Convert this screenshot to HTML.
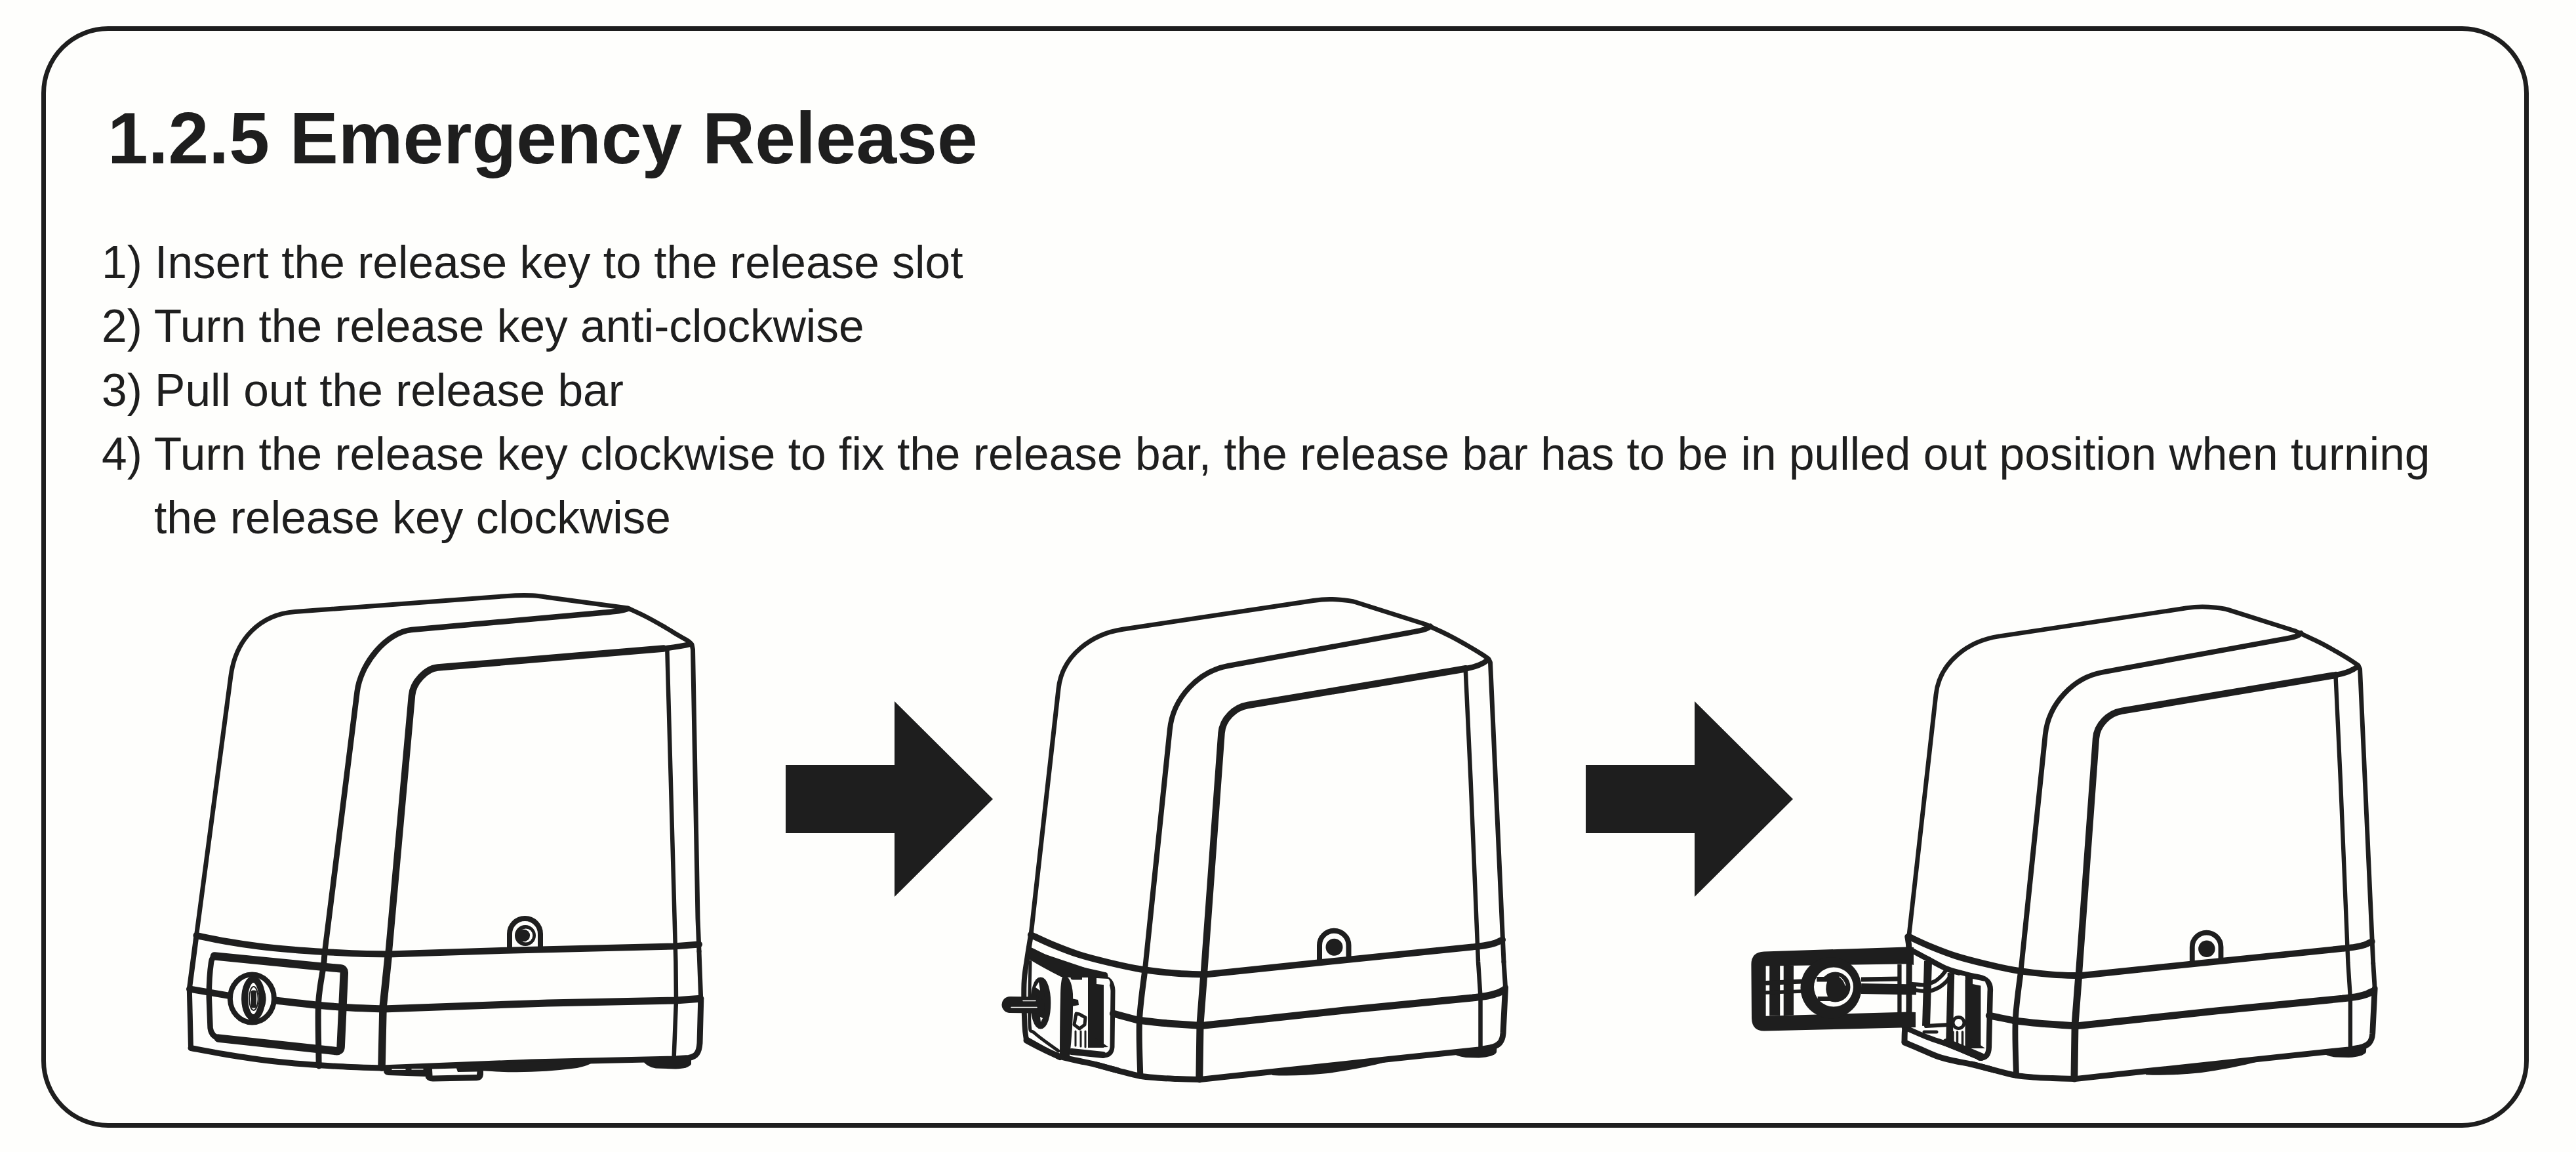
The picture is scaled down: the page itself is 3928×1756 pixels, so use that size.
<!DOCTYPE html>
<html><head><meta charset="utf-8">
<style>
html,body{margin:0;padding:0;}
body{width:3928px;height:1756px;background:#fefefc;position:relative;overflow:hidden;font-family:"Liberation Sans",sans-serif;color:#1e1e1e;}
#box{position:absolute;left:63px;top:40px;width:3779px;height:1665px;border:7px solid #1e1e1e;border-radius:102px;}
.t{position:absolute;white-space:nowrap;line-height:1;margin:0;}
#h{left:164px;top:155.5px;font-size:111px;font-weight:bold;}
.p{font-size:69.5px;}
svg{position:absolute;left:0;top:0;}
</style></head><body>
<div id="box"></div>
<div class="t" id="h">1.2.5 Emergency Release</div>
<div class="t p" style="left:155px;top:366px;">1) Insert the release key to the release slot</div>
<div class="t p" style="left:155px;top:463px;">2) Turn the release key anti-clockwise</div>
<div class="t p" style="left:155px;top:561px;">3) Pull out the release bar</div>
<div class="t p" style="left:155px;top:658px;">4) Turn the release key clockwise to fix the release bar, the release bar has to be in pulled out position when turning</div>
<div class="t p" style="left:235px;top:755px;">the release key clockwise</div>
<svg width="3928" height="1756" viewBox="0 0 3928 1756" fill="none" stroke="#1e1e1e" stroke-linecap="round" stroke-linejoin="round">
<g fill="#1e1e1e" stroke="none">
<path d="M1198 1166H1364V1069L1514 1218L1364 1367V1270H1198Z"/>
<path d="M2418 1166H2584V1069L2734 1218L2584 1367V1270H2418Z"/>
</g>
<g id="m1">
<path stroke-width="7" d="M299.5 1426L352 1030C359.4 974.5 396.1 936.4 450 932.5L770 908.75C783 907.7 800 907 812 907.8C820 908.3 828 909.5 835 910.5L957.5 927C962.1 929.2 976.2 935.5 985 940C993.8 944.5 1001.7 949 1010 953.8C1018.3 958.5 1028.3 964.8 1035 968.8C1041.7 972.7 1046.7 975.2 1050 977.5C1053.3 979.8 1054.2 981.7 1055 982.5L1056.5 990L1064 1400L1066 1450"/>
<path stroke-width="8.5" d="M495 1452.5L544.5 1055C549.6 1011.3 589.7 963.4 627.5 960L920 933.75C938 932 950 931.5 957 928"/>
<path stroke-width="10.5" d="M592.5 1454L628 1060C629.8 1040.1 649.6 1019.1 667.5 1017.5L1012 988.6"/>
<path stroke-width="8.5" d="M1012 988.6C1030 986.5 1042 984.5 1052 982"/>
<path stroke-width="6.5" d="M1017.3 989L1022.5 1178L1030.4 1466L1031 1525L1027.5 1615"/>
<path stroke-width="10" d="M299.5 1426C307.1 1427.5 329.1 1432.2 345 1435C360.9 1437.8 378.3 1440.4 395 1442.5C411.7 1444.6 428.3 1446.1 445 1447.5C461.7 1448.9 478.3 1450 495 1451C511.7 1452 528.7 1452.9 545 1453.5C561.3 1454.1 585 1454.3 593 1454.5L772.5 1448.75L1027.5 1442.5L1066 1439.5"/>
<path stroke-width="10" d="M289 1507.5C298.8 1509.2 337.8 1515.8 347.5 1517.5"/>
<path stroke-width="11" d="M420 1525C431.2 1526.2 468.3 1530.7 487.5 1532.5C506.7 1534.3 518.9 1535.1 535 1536C551.1 1536.9 575.8 1537.7 584 1538L835 1529L1030 1525L1068 1522.3"/>
<path stroke-width="9" d="M291 1597.5C299.2 1599 322.7 1603.6 340 1606.5C357.3 1609.4 378.3 1612.8 395 1615C411.7 1617.2 424.6 1618.5 440 1620C455.4 1621.5 471.7 1622.7 487.5 1623.8C503.3 1624.8 519.2 1625.8 535 1626.5C550.8 1627.2 574.2 1627.8 582 1628L810 1619L985 1615L1027.5 1614L1050 1612.5C1062 1611 1066 1604 1067 1590L1068.75 1525"/>
<path stroke-width="8" d="M299.5 1426L288.8 1507.5L291 1597.5"/>
<path stroke-width="9" d="M495 1452.5C494.7 1455.8 494.9 1459.3 493.3 1472C491.7 1484.7 486.8 1505.2 485.6 1528.5C484.4 1551.8 485.9 1595.9 486 1612C486.1 1628.1 486.3 1622.8 486.4 1625"/>
<path stroke-width="11.5" d="M592.5 1454L584 1536L582 1627"/>
<path stroke-width="7" d="M1066 1450L1068.8 1525"/>
<path stroke-width="8.5" d="M331 1457.6L519 1476.3Q525 1477 524.8 1483L519.6 1596Q519.2 1602.6 512.5 1602.1L337 1583Q322.5 1581.5 320.6 1567L318.8 1521Q318.6 1490 322 1467Q323.5 1457 331 1457.6Z"/>
<path stroke-width="12.5" d="M327 1457.4L519 1476.3Q525 1477 524.8 1483L519.6 1596Q519.2 1602.6 512.5 1602.1L333 1582.6"/>
<ellipse cx="384.4" cy="1522" rx="33.5" ry="36.5" stroke-width="8" fill="#fefefc"/>
<ellipse cx="386.3" cy="1522" rx="13.2" ry="29" stroke-width="10"/>
<ellipse cx="386.8" cy="1522" rx="6.8" ry="18" stroke-width="2"/>
<rect x="382.6" y="1509.5" width="8.4" height="27" rx="3" fill="#1e1e1e" stroke="none"/>
<path stroke-width="1.5" d="M392 1494Q418 1522 392 1551"/>
<path stroke-width="8" d="M777 1449V1423.5A23.5 23.5 0 0 1 824 1423.5V1447"/>
<circle cx="801" cy="1426" r="16" fill="#1e1e1e" stroke="none"/>
<circle cx="801.8" cy="1426" r="10.5" fill="#fefefc" stroke="none"/>
<circle cx="798.8" cy="1426" r="9.3" fill="#1e1e1e" stroke="none"/>
<path fill="#1e1e1e" stroke="none" d="M697 1622L905 1616Q906 1622 880 1628Q810 1637 750 1633Q710 1631 697 1628Z"/>
<path fill="#1e1e1e" stroke="none" d="M980 1613L1054 1611L1054 1622Q1050 1629 1030 1629.5L1000 1628.5Q985 1626 980 1616Z"/>
<path fill="#1e1e1e" stroke="none" d="M585 1624L648 1624L648 1641L592 1639Q585 1638 585 1632Z"/>
<path stroke-width="1.6" stroke="#fefefc" stroke-linecap="butt" d="M597.5 1630.3H618.5M627.5 1629.8H645.5"/>
<path fill="#1e1e1e" stroke="none" d="M645 1624L737 1622L737 1638Q736 1647 727 1647.3L660 1648.5Q650 1648.5 648 1640Z"/>
<path fill="#fefefc" stroke="none" d="M659 1629.5L696 1628.5L698 1634L727.5 1633.5L727 1638L659.5 1639.5Z"/>
</g>
<g id="m2">
<path stroke-width="7" d="M1572 1425L1614 1050C1619.5 998.3 1665.5 966.2 1712 959.2L2002.5 915.5C2015 913.6 2027 913 2037 913.8C2048 914.6 2058 915 2067.5 918L2172.5 951.25C2178.8 954.2 2199.6 963.5 2210 968.8C2220.4 974 2226.7 977.7 2235 982.5C2243.3 987.3 2254.2 993.8 2260 997.5C2265.8 1001.2 2268.3 1003.3 2270 1004.5L2272.5 1010L2290 1400L2293 1466"/>
<path stroke-width="8" d="M1746 1477.5L1783.75 1112.5C1788.7 1062.75 1828.2 1023.1 1872.5 1015L2152.5 963.75C2165 961.5 2176 960 2181 954.5"/>
<path stroke-width="10.5" d="M1836 1482.5L1862.5 1117.5C1864.2 1095.6 1882.8 1078.4 1902.5 1075L2235 1019.3"/>
<path stroke-width="8.5" d="M2235 1019.3C2248 1017 2260 1013 2268.75 1006"/>
<path stroke-width="6.5" d="M2234.7 1020L2242.5 1188L2254 1466L2257.5 1520L2257.5 1597.5"/>
<path stroke-width="10" d="M1572 1425C1577.5 1427.5 1592.8 1435 1605 1440C1617.2 1445 1630.8 1450.5 1645 1455C1659.2 1459.5 1674.2 1463.2 1690 1467C1705.8 1470.8 1722.5 1474.7 1740 1477.5C1757.5 1480.3 1778.8 1482.4 1795 1483.8C1811.2 1485.1 1830.4 1485.2 1837.5 1485.5L2010 1467.5L2245 1443.5C2248.3 1443.1 2259.2 1442 2265 1441C2270.8 1440 2275.7 1438.9 2280 1437.5C2284.3 1436.1 2289.2 1433.3 2291 1432.5"/>
<path stroke-width="11" d="M1735 1555C1740 1555.6 1755 1557.5 1765 1558.5C1775 1559.5 1783.8 1560.2 1795 1561C1806.2 1561.8 1825.8 1563.1 1832 1563.5L2050 1540L2245 1521C2248.8 1520.5 2261.7 1519.2 2268 1518C2274.3 1516.8 2278.9 1515.4 2283 1514C2287.1 1512.6 2290.9 1510.2 2292.5 1509.5"/>
<path stroke-width="9" d="M1670 1622.5C1675.8 1624.1 1693.8 1629.1 1705 1632C1716.2 1634.9 1727.5 1638.2 1737.5 1640C1747.5 1641.8 1755.4 1642.2 1765 1643C1774.6 1643.8 1784.2 1644.1 1795 1644.5C1805.8 1644.9 1824.2 1645.3 1830 1645.5L1950 1632.5L2112.5 1615L2255 1600L2272 1597C2286 1594 2291 1588 2292 1575L2295.5 1505"/>
<path stroke-width="9" d="M1746 1477.5C1744.6 1490.4 1738.7 1527.9 1737.5 1555C1736.3 1582.1 1738.5 1625.8 1738.8 1640"/>
<path stroke-width="11" d="M1836 1482.5L1830 1561L1828.8 1645"/>
<path stroke-width="7" d="M2293 1466L2295.5 1505"/>
<path stroke-width="8" d="M2012 1467V1441A22.25 22.25 0 0 1 2056.5 1441V1462"/>
<circle cx="2034.5" cy="1443.75" r="13" fill="#1e1e1e" stroke="none"/>
<path fill="#1e1e1e" stroke="none" d="M1940 1632L2112.5 1613L2113 1619Q2075 1629 2025 1636Q1975 1641 1940 1639Z"/>
<path fill="#1e1e1e" stroke="none" d="M2215 1602L2282.5 1596L2282 1604Q2278 1611 2255 1612.5L2235 1612Q2220 1610 2215 1605Z"/>
<path stroke-width="8" d="M1572 1425C1571 1431.2 1567.8 1450 1566 1462.5C1564.2 1475 1562.1 1483.3 1561.5 1500C1560.9 1516.7 1561.9 1548.3 1562.5 1562.5C1563.1 1576.7 1564.6 1581.2 1565 1585"/>
<path stroke-width="8" d="M1570 1447.5C1578.3 1451.2 1600.8 1463.6 1620 1470C1639.2 1476.4 1674.2 1483.3 1685 1486"/>
<path stroke-width="11" d="M1697.5 1545C1703.8 1546.7 1728.8 1553.3 1735 1555"/>
<path stroke-width="9" d="M1565 1586C1569.2 1588.2 1581.7 1595 1590 1599C1598.3 1603 1606.3 1607.1 1615 1610C1623.7 1612.9 1632.8 1614.4 1642 1616.5C1651.2 1618.6 1659.5 1619.9 1670 1622.5C1680.5 1625.1 1699.2 1630.4 1705 1632"/>
<path fill="#1e1e1e" stroke="none" d="M1568 1446L1690 1487L1688 1494L1618 1489Q1590 1475 1569 1462Z"/>
<path stroke-width="8" d="M1565 1584C1569.2 1586.3 1581.5 1593.3 1590 1598C1598.5 1602.7 1611.7 1609.7 1616 1612"/>
<path stroke-width="5" d="M1571 1466C1570.8 1481.7 1568.8 1541.8 1570 1560C1571.2 1578.2 1570.7 1568 1578 1575C1585.3 1582 1608 1597.5 1614 1602"/>
<path fill="#1e1e1e" stroke="none" d="M1621 1486Q1634 1488 1636 1515Q1637 1560 1631 1611L1616 1613Q1616 1560 1617 1520Q1617 1495 1621 1486Z"/>
<path fill="#1e1e1e" stroke="none" d="M1634 1522L1644 1524L1645 1532L1634 1534Z"/>
<ellipse cx="1586.8" cy="1529" rx="11" ry="35" stroke-width="9" fill="#1e1e1e"/>
<path fill="#fefefc" stroke="none" d="M1579 1505L1584 1497L1586 1510Z"/>
<path fill="#fefefc" stroke="none" d="M1586 1550L1590 1552L1587 1558Z"/>
<path stroke-width="25" d="M1540 1531.5L1580 1532"/>
<path stroke-width="1.5" stroke="#fefefc" d="M1560 1525.5H1579M1542 1535.5H1581"/>
<path stroke-width="7" d="M1636 1490L1680 1490Q1696 1491 1697 1510L1696 1596Q1695 1609 1682 1609"/>
<path stroke-width="10" d="M1682 1608L1634 1603"/>
<path fill="#1e1e1e" stroke="none" d="M1659 1489L1683 1489L1683 1597L1659 1597Z"/>
<path fill="#fefefc" stroke="none" d="M1672 1491L1690 1492Q1694 1496 1692 1502L1672 1500Z"/>
<path fill="#fefefc" stroke="none" d="M1684 1510L1691 1510L1690 1573L1684 1573Z"/>
<path fill="#fefefc" stroke="none" d="M1650 1490L1659 1490L1659 1494L1650 1494Z"/>
<path stroke-width="5" d="M1641 1545L1646 1546L1655 1551L1654 1562L1646 1568L1638 1562Z"/>
<path stroke-width="3" d="M1640 1572V1594M1648 1572V1595M1655 1572V1596"/>
<path fill="#1e1e1e" stroke="none" d="M1668 1580L1690 1596L1668 1597Z"/>
</g>
<g id="m3">
<g transform="translate(1367 27) scale(0.982 0.983)">
<path stroke-width="7" d="M1572 1425L1614 1050C1619.5 998.3 1665.5 966.2 1712 959.2L2002.5 915.5C2015 913.6 2027 913 2037 913.8C2048 914.6 2058 915 2067.5 918L2172.5 951.25C2178.8 954.2 2199.6 963.5 2210 968.8C2220.4 974 2226.7 977.7 2235 982.5C2243.3 987.3 2254.2 993.8 2260 997.5C2265.8 1001.2 2268.3 1003.3 2270 1004.5L2272.5 1010L2290 1400L2293 1466"/>
<path stroke-width="8" d="M1746 1477.5L1783.75 1112.5C1788.7 1062.75 1828.2 1023.1 1872.5 1015L2152.5 963.75C2165 961.5 2176 960 2181 954.5"/>
<path stroke-width="10.5" d="M1836 1482.5L1862.5 1117.5C1864.2 1095.6 1882.8 1078.4 1902.5 1075L2235 1019.3"/>
<path stroke-width="8.5" d="M2235 1019.3C2248 1017 2260 1013 2268.75 1006"/>
<path stroke-width="6.5" d="M2234.7 1020L2242.5 1188L2254 1466L2257.5 1520L2257.5 1597.5"/>
<path stroke-width="10" d="M1572 1425C1577.5 1427.5 1592.8 1435 1605 1440C1617.2 1445 1630.8 1450.5 1645 1455C1659.2 1459.5 1674.2 1463.2 1690 1467C1705.8 1470.8 1722.5 1474.7 1740 1477.5C1757.5 1480.3 1778.8 1482.4 1795 1483.8C1811.2 1485.1 1830.4 1485.2 1837.5 1485.5L2010 1467.5L2245 1443.5C2248.3 1443.1 2259.2 1442 2265 1441C2270.8 1440 2275.7 1438.9 2280 1437.5C2284.3 1436.1 2289.2 1433.3 2291 1432.5"/>
<path stroke-width="11" d="M1735 1555C1740 1555.6 1755 1557.5 1765 1558.5C1775 1559.5 1783.8 1560.2 1795 1561C1806.2 1561.8 1825.8 1563.1 1832 1563.5L2050 1540L2245 1521C2248.8 1520.5 2261.7 1519.2 2268 1518C2274.3 1516.8 2278.9 1515.4 2283 1514C2287.1 1512.6 2290.9 1510.2 2292.5 1509.5"/>
<path stroke-width="9" d="M1670 1622.5C1675.8 1624.1 1693.8 1629.1 1705 1632C1716.2 1634.9 1727.5 1638.2 1737.5 1640C1747.5 1641.8 1755.4 1642.2 1765 1643C1774.6 1643.8 1784.2 1644.1 1795 1644.5C1805.8 1644.9 1824.2 1645.3 1830 1645.5L1950 1632.5L2112.5 1615L2255 1600L2272 1597C2286 1594 2291 1588 2292 1575L2295.5 1505"/>
<path stroke-width="9" d="M1746 1477.5C1744.6 1490.4 1738.7 1527.9 1737.5 1555C1736.3 1582.1 1738.5 1625.8 1738.8 1640"/>
<path stroke-width="11" d="M1836 1482.5L1830 1561L1828.8 1645"/>
<path stroke-width="7" d="M2293 1466L2295.5 1505"/>
<path stroke-width="8" d="M2012 1467V1441A22.25 22.25 0 0 1 2056.5 1441V1462"/>
<circle cx="2034.5" cy="1443.75" r="13" fill="#1e1e1e" stroke="none"/>
<path fill="#1e1e1e" stroke="none" d="M1940 1632L2112.5 1613L2113 1619Q2075 1629 2025 1636Q1975 1641 1940 1639Z"/>
<path fill="#1e1e1e" stroke="none" d="M2215 1602L2282.5 1596L2282 1604Q2278 1611 2255 1612.5L2235 1612Q2220 1610 2215 1605Z"/>
</g>
<path stroke-width="9" d="M2908.8 1427.8C2909.2 1431 2910.6 1435 2911 1447C2911.4 1459 2911.1 1482.8 2911 1500C2910.9 1517.2 2911.5 1538.8 2910.5 1550C2909.5 1561.2 2906.1 1560.7 2905 1567C2903.9 1573.3 2904.2 1584.5 2904 1588"/>
<path stroke-width="8.5" d="M2911.5 1446.7C2916.2 1449.2 2930.3 1456.9 2940 1462C2949.7 1467.1 2960.3 1473.5 2969.8 1477.3C2979.3 1481.1 2989.1 1483 2997 1485C3004.9 1487 3013.7 1488.8 3017 1489.5C3030 1492 3036 1498 3034.7 1512L3032.8 1596C3032.5 1608 3028 1613 3018 1612.5"/>
<path stroke-width="8" d="M3020.4 1612.9C3016.2 1611.1 3003.4 1605.5 2995 1602C2986.6 1598.5 2979.4 1595.5 2969.8 1591.9C2960.2 1588.3 2948.3 1584.7 2937.3 1580.4C2926.3 1576.1 2909.5 1568.4 2903.9 1566"/>
<path stroke-width="12" d="M3021 1611C3016.7 1609.2 3003.8 1603.7 2995 1600C2986.2 1596.3 2972.5 1590.8 2968 1589"/>
<path stroke-width="9" d="M2904 1589C2908.3 1590.8 2921.3 1596.3 2930 1600C2938.7 1603.7 2947.7 1608.1 2956.4 1611C2965.1 1613.9 2973.6 1615.6 2982 1617.5C2990.4 1619.4 2997.1 1620.2 3007 1622.5C3016.9 1624.8 3035.6 1629.8 3041.3 1631.3"/>
<path stroke-width="10.5" d="M3033 1548L3071 1555.6"/>
<path fill="#1e1e1e" stroke="none" fill-rule="evenodd" d="M2690 1450.5L2908 1443.5L2918 1444L2918 1471L2912 1469.3L2692.6 1472.4L2692.6 1548.75L2912 1542.5L2921 1543L2921 1566L2690 1571.5Q2671.5 1571.5 2671 1552L2670.4 1470Q2670.5 1451 2690 1450.5Z"/>
<path fill="#1e1e1e" stroke="none" d="M2698.2 1472L2714.2 1472L2714.2 1548L2698.2 1548.5Z"/>
<path fill="#1e1e1e" stroke="none" d="M2719.7 1472L2735 1471.8L2735 1547.5L2719.7 1548Z"/>
<path stroke-width="7" stroke-linecap="butt" d="M2692 1498.5L2748 1496"/>
<path stroke-width="5.5" stroke-linecap="butt" d="M2692 1513L2748 1511"/>
<circle cx="2792" cy="1505.7" r="46.5" fill="#1e1e1e" stroke="none"/>
<circle cx="2796" cy="1504.5" r="30" fill="#fefefc" stroke="none"/>
<circle cx="2798.5" cy="1504.5" r="23" fill="#1e1e1e" stroke="none"/>
<path fill="#1e1e1e" stroke="none" d="M2770 1489L2798 1489L2798 1526L2772 1526Z"/>
<path fill="#fefefc" stroke="none" d="M2768.5 1496.5L2786 1496.5Q2782 1508 2787 1519L2770 1519Q2765.5 1508 2768.5 1496.5Z"/>
<path stroke-width="1.2" stroke="#fefefc" d="M2805 1489Q2812 1494 2814 1502"/>
<path stroke-width="7" stroke-linecap="butt" d="M2838 1493L2898 1492"/>
<path stroke-width="16" stroke-linecap="butt" d="M2838 1507L2922 1508.5"/>
<path fill="#1e1e1e" stroke="none" d="M2893.3 1470L2899.6 1470L2899.6 1543L2893.3 1543Z"/>
<path stroke-width="6" d="M2916 1500C2919.2 1500.2 2929.3 1501.7 2935 1501C2940.7 1500.3 2945.7 1498.3 2950 1496C2954.3 1493.7 2958 1490 2961 1487C2964 1484 2966.8 1479.5 2968 1478"/>
<path stroke-width="6" d="M2920 1509C2923.3 1509.3 2934.2 1511.5 2940 1511C2945.8 1510.5 2950.7 1508.2 2955 1506C2959.3 1503.8 2963.2 1500.5 2966 1498C2968.8 1495.5 2971 1492.2 2972 1491"/>
<path stroke-width="12" stroke-linecap="butt" d="M2940 1465L2937 1564"/>
<path stroke-width="10.5" stroke-linecap="butt" d="M2975 1483L2972.5 1588"/>
<path fill="#1e1e1e" stroke="none" d="M2996.5 1486L3020.4 1491L3020.4 1598L2996.5 1598Z"/>
<path fill="#fefefc" stroke="none" d="M3008 1492L3027 1496Q3029 1500 3027.5 1504L3008 1500Z"/>
<path fill="#fefefc" stroke="none" d="M2988 1486L2996.5 1488L2996.5 1494L2988 1492Z"/>
<path fill="#fefefc" stroke="none" d="M3021 1512L3028 1512L3027 1575L3021 1573Z"/>
<circle cx="2986.5" cy="1559" r="8.5" stroke-width="5" fill="#fefefc"/>
<path stroke-width="3.5" d="M2978 1573V1590M2984.5 1573V1592M2992.5 1573V1594"/>
<path fill="#1e1e1e" stroke="none" d="M3004 1582L3027 1598L3004 1598Z"/>
<path stroke-width="5" d="M2934 1573L2953 1573"/>
<path stroke-width="6" d="M2937 1564L2972 1562"/>
</g>
</svg>
</body></html>
